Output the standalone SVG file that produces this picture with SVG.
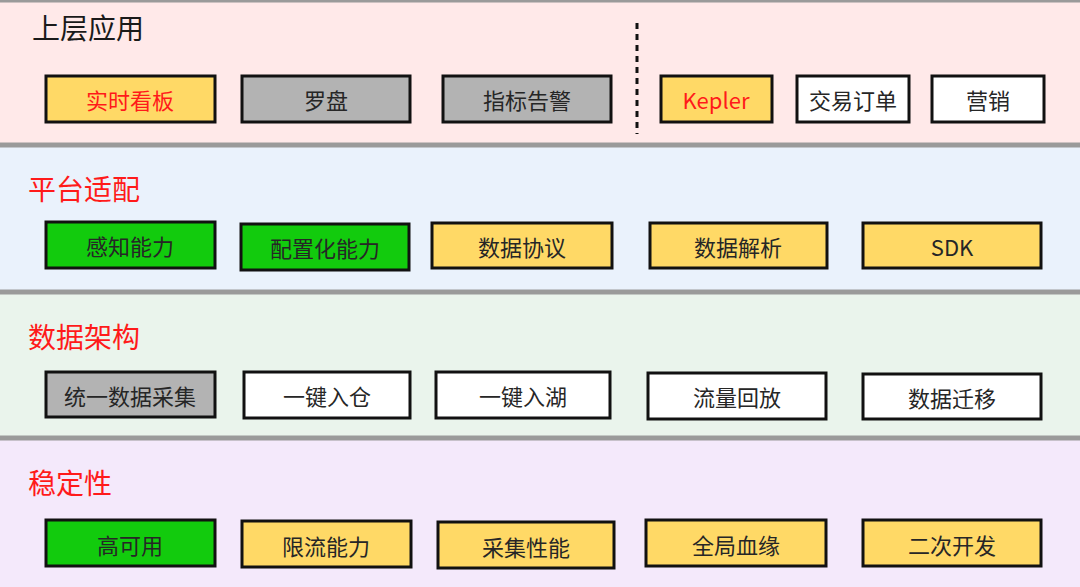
<svg xmlns="http://www.w3.org/2000/svg" width="1080" height="587" viewBox="0 0 1080 587">
<style>
.band{stroke:#9a9a9a;stroke-width:3}
.n{stroke:#111;stroke-width:3}
.y{fill:#FFD966}.g{fill:#B3B3B3}.gr{fill:#12CB0D}.w{fill:#FFFFFF}
text{font-family:"Noto Sans CJK SC","Noto Sans",sans-serif}
.t{font-size:22px;fill:#262626;text-anchor:middle;dominant-baseline:central}
.red{fill:#FF1A1A}
.h{font-size:28px}
</style>
<rect width="1080" height="587" fill="#ffffff"/>
<g id="band1"><rect class="band" x="-5" y="1" width="1090" height="143" fill="#FFE9E9"/><text class="h" x="32" y="39" fill="#1a1a1a">上层应用</text></g>
<g id="band2"><rect class="band" x="-5" y="146" width="1090" height="145" fill="#EAF2FC"/><text class="h red" x="28" y="200">平台适配</text></g>
<g id="band3"><rect class="band" x="-5" y="293" width="1090" height="144" fill="#EAF4EC"/><text class="h red" x="28" y="348">数据架构</text></g>
<g id="band4"><rect class="band" x="-5" y="439" width="1090" height="152" fill="#F4E9FB"/><text class="h red" x="28" y="494">稳定性</text></g>
<g id="connectors"><line x1="637" y1="23" x2="637" y2="134" stroke="#111" stroke-width="3" stroke-dasharray="6,5"/></g>
<g id="n1"><rect class="n y" x="46" y="76" width="169" height="46"/><text class="t red" x="130" y="99">实时看板</text></g>
<g id="n2"><rect class="n g" x="242" y="76" width="168" height="46"/><text class="t" x="326" y="99">罗盘</text></g>
<g id="n3"><rect class="n g" x="443" y="76" width="168" height="46"/><text class="t" x="527" y="99">指标告警</text></g>
<g id="n4"><rect class="n y" x="661" y="76" width="111" height="46"/><text class="t red" x="716" y="99">Kepler</text></g>
<g id="n5"><rect class="n w" x="797" y="76" width="112" height="46"/><text class="t" x="853" y="99">交易订单</text></g>
<g id="n6"><rect class="n w" x="932" y="76" width="112" height="46"/><text class="t" x="988" y="99">营销</text></g>
<g id="n7"><rect class="n gr" x="46" y="222" width="169" height="46"/><text class="t" x="130" y="245">感知能力</text></g>
<g id="n8"><rect class="n gr" x="241" y="224" width="168" height="46"/><text class="t" x="325" y="247">配置化能力</text></g>
<g id="n9"><rect class="n y" x="432" y="223" width="180" height="45"/><text class="t" x="522" y="246">数据协议</text></g>
<g id="n10"><rect class="n y" x="650" y="223" width="177" height="45"/><text class="t" x="738" y="246">数据解析</text></g>
<g id="n11"><rect class="n y" x="863" y="223" width="178" height="45"/><text class="t" x="952" y="246">SDK</text></g>
<g id="n12"><rect class="n g" x="46" y="372" width="169" height="45"/><text class="t" x="130" y="395">统一数据采集</text></g>
<g id="n13"><rect class="n w" x="244" y="372" width="166" height="46"/><text class="t" x="327" y="395">一键入仓</text></g>
<g id="n14"><rect class="n w" x="436" y="372" width="174" height="46"/><text class="t" x="523" y="395">一键入湖</text></g>
<g id="n15"><rect class="n w" x="648" y="373" width="178" height="46"/><text class="t" x="737" y="396">流量回放</text></g>
<g id="n16"><rect class="n w" x="863" y="374" width="178" height="45"/><text class="t" x="952" y="397">数据迁移</text></g>
<g id="n17"><rect class="n gr" x="46" y="520" width="169" height="46"/><text class="t" x="130" y="544">高可用</text></g>
<g id="n18"><rect class="n y" x="242" y="521" width="169" height="46"/><text class="t" x="326" y="545">限流能力</text></g>
<g id="n19"><rect class="n y" x="438" y="522" width="176" height="46"/><text class="t" x="526" y="546">采集性能</text></g>
<g id="n20"><rect class="n y" x="646" y="520" width="180" height="46"/><text class="t" x="736" y="544">全局血缘</text></g>
<g id="n21"><rect class="n y" x="863" y="520" width="178" height="46"/><text class="t" x="952" y="544">二次开发</text></g>
</svg>
